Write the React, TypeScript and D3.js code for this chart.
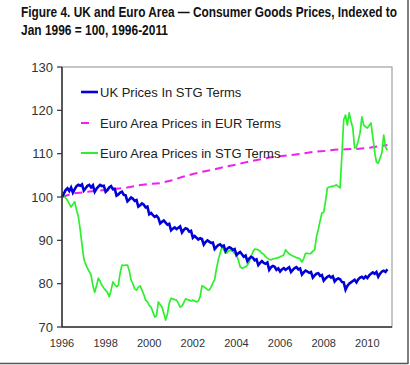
import React from 'react';
import * as d3 from 'd3';

// monthly series, Jan 1996 .. Dec 2010
const ukPricesStg = [
  100.0, 100.8, 101.6, 102.0, 101.4, 102.2, 101.0, 101.8, 102.5, 102.8, 102.6, 102.9,
  101.5, 102.0, 102.6, 102.8, 102.2, 102.7, 101.2, 101.9, 102.4, 102.8, 102.5, 102.6,
  101.2, 101.6, 102.2, 102.5, 101.8, 101.9, 100.3, 100.6, 101.0, 101.2, 100.5, 100.4,
  99.0, 99.4, 99.9, 99.6, 99.1, 99.3, 97.8, 98.1, 98.5, 98.2, 97.6, 97.8,
  96.0, 96.3, 95.8, 95.4, 95.7, 95.2, 93.9, 94.3, 94.6, 94.1, 93.6, 93.8,
  92.3, 92.7, 93.0, 92.6, 92.9, 93.2, 91.8, 92.4, 92.8, 92.6, 92.0, 92.2,
  90.6, 91.0, 90.6, 90.2, 90.5, 90.3, 89.0, 89.6, 90.0, 89.7, 89.4, 89.5,
  88.0, 88.5, 88.9, 89.1, 88.6, 88.8, 87.5, 88.1, 88.4, 88.2, 87.8, 88.0,
  86.6, 87.0, 87.3, 86.8, 86.2, 86.5, 85.2, 85.8, 86.2, 86.0, 85.4, 85.6,
  84.3, 84.8, 85.2, 84.8, 84.6, 84.9, 83.2, 83.8, 84.1, 83.9, 83.2, 83.5,
  82.8, 83.3, 83.6, 83.2, 83.5, 83.8, 82.7, 83.2, 83.6, 83.8, 83.3, 83.5,
  82.1, 82.6, 83.0, 82.8, 82.5, 82.7, 81.4, 81.9, 82.3, 82.4, 81.8, 82.0,
  80.7, 81.2, 81.6, 81.8, 81.4, 81.7, 80.5, 81.0, 81.2, 81.0, 80.4, 80.3,
  78.6, 79.5, 80.0, 80.3, 80.6, 80.9, 80.3, 81.0, 81.4, 81.6, 81.2, 81.7,
  81.3, 81.9, 82.3, 82.6, 82.3, 82.7, 81.6, 82.3, 82.8, 83.0, 82.7, 83.3,
];

const euroPricesStg = [
  100.0, 100.1, 99.8, 99.2, 98.4, 97.7, 98.3, 98.9, 97.0, 95.5, 92.5, 89.0,
  85.8, 84.5, 83.6, 82.8, 82.0, 79.5, 78.0, 79.5, 81.3, 80.5, 79.6, 79.0,
  78.5, 78.0, 77.0, 78.5, 80.4, 79.8, 79.3, 79.6, 82.5, 84.3, 84.2, 84.3,
  84.3, 83.0, 80.8, 80.0, 78.8, 78.5, 79.2, 79.5, 78.5, 77.5, 76.2, 75.8,
  75.0, 74.6, 73.5, 72.3, 72.6, 75.8, 75.2, 74.6, 73.2, 71.6, 73.0, 75.5,
  76.6, 76.5, 76.3, 76.2, 75.5, 74.6, 74.8, 75.6, 76.5, 76.3, 76.2, 76.0,
  76.2, 76.0, 75.8, 76.0, 77.0, 79.5, 79.3, 79.0, 78.6, 78.5, 79.2, 80.1,
  81.0, 83.5, 85.5, 87.0, 88.5, 87.8, 87.0, 87.2, 87.6, 87.8, 87.4, 87.0,
  86.6, 85.5, 83.9, 83.6, 83.7, 83.9, 84.3, 85.0, 86.2, 87.3, 88.0, 87.9,
  87.8, 87.5, 87.0, 86.8, 86.2, 85.9, 85.6, 85.5, 85.7, 85.8, 85.9, 86.0,
  86.2, 86.4, 86.6, 87.8, 87.3, 86.9, 86.6, 86.4, 86.2, 86.0, 85.9, 85.7,
  85.0, 85.8, 87.0, 87.0, 86.9, 87.0, 87.5, 87.8, 90.8, 92.5, 94.5, 96.3,
  96.5, 99.0, 102.1, 102.3, 102.4, 102.5, 102.6, 102.8, 102.4, 102.1, 109.7, 117.8,
  118.9, 116.6, 119.4, 117.5, 115.9, 111.3, 111.5, 113.0, 114.8, 118.5, 116.6, 116.2,
  115.9, 116.5, 117.1, 113.8, 110.5, 108.0, 107.8, 109.0, 110.2, 114.3, 111.5, 110.8,
];

// half-yearly readings of the smooth EUR series
const euroEurYears = [
  1996, 1996.5, 1997, 1997.5, 1998, 1998.5, 1999, 1999.5, 2000, 2000.5, 2001, 2001.5,
  2002, 2002.5, 2003, 2003.5, 2004, 2004.5, 2005, 2005.5, 2006, 2006.5, 2007, 2007.5,
  2008, 2008.5, 2009, 2009.5, 2010, 2010.5, 2010.92,
];
const euroPricesEur = [
  100.0, 100.8, 101.1, 101.4, 101.6, 101.9, 102.2, 102.7, 103.0, 103.2, 103.8, 104.6,
  105.3, 105.9, 106.4, 107.0, 107.5, 108.1, 108.6, 109.1, 109.4, 109.7, 110.0, 110.4,
  110.6, 110.9, 111.0, 111.1, 111.3, 111.7, 112.0,
];

const yTicks = [70, 80, 90, 100, 110, 120, 130];
const xTicks = [1996, 1998, 2000, 2002, 2004, 2006, 2008, 2010];

const seriesNames = [
  'UK Prices In STG Terms',
  'Euro Area Prices in EUR Terms',
  'Euro Area Prices in STG Terms',
];

const W = 410;
const H = 365;
const plot = { left: 62, right: 392, top: 67, bottom: 327 };

export default function App() {
  const x = d3.scaleLinear().domain([1996, 2011.13]).range([plot.left, plot.right]);
  const y = d3.scaleLinear().domain([70, 130]).range([plot.bottom, plot.top]);

  const monthly = (vals: number[]) => vals.map((v, i) => [1996 + i / 12, v] as [number, number]);
  const line = d3.line<[number, number]>().x(d => x(d[0])).y(d => y(d[1]));

  const bluePath = line(monthly(ukPricesStg)) || '';
  const greenPath = line(monthly(euroPricesStg)) || '';
  const magentaPath = line(euroEurYears.map((yr, i) => [yr, euroPricesEur[i]] as [number, number])) || '';

  const blue = '#0000d8';
  const green = '#2cf02c';
  const magenta = '#ee22ee';
  const legendColors = [blue, magenta, green];
  const legendY = [92, 123, 153];

  return (
    <svg width={W} height={H} viewBox={`0 0 ${W} ${H}`}
      style={{ position: 'absolute', left: 0, top: 0, background: '#fff' }}
      fontFamily="'Liberation Sans', Arial, sans-serif">
      {/* title */}
      <g fontFamily="'Liberation Sans Narrow', 'Arial Narrow', 'Liberation Sans', sans-serif"
        fontWeight="bold" fontSize={14} fill="#111">
        <text x={21} y={17} textLength={376} lengthAdjust="spacingAndGlyphs">
          Figure 4. UK and Euro Area — Consumer Goods Prices, Indexed to
        </text>
        <text x={21} y={35} textLength={147} lengthAdjust="spacingAndGlyphs">
          Jan 1996 = 100, 1996-2011
        </text>
      </g>

      {/* plot frame */}
      <rect x={plot.left} y={plot.top} width={plot.right - plot.left} height={plot.bottom - plot.top}
        fill="none" stroke="#a0a0a0" strokeWidth={1.2} />

      {/* series */}
      <path d={magentaPath} fill="none" stroke={magenta} strokeWidth={2} strokeDasharray="8,5" />
      <path d={greenPath} fill="none" stroke={green} strokeWidth={1.7} strokeLinejoin="round" />
      <path d={bluePath} fill="none" stroke={blue} strokeWidth={2.6} strokeLinejoin="miter" />

      {/* axes */}
      <line x1={plot.left} x2={plot.left} y1={plot.top} y2={plot.bottom} stroke="#333" strokeWidth={1.5} />
      <line x1={plot.left} x2={plot.right} y1={plot.bottom} y2={plot.bottom} stroke="#333" strokeWidth={1.5} />
      {yTicks.map(t => (
        <g key={t}>
          <line x1={plot.left - 5} x2={plot.left} y1={y(t)} y2={y(t)} stroke="#333" strokeWidth={1.2} />
          <text x={53} y={y(t) + 4.5} textAnchor="end" fontSize={13} fill="#333">{t}</text>
        </g>
      ))}
      {xTicks.map(t => (
        <text key={t} x={x(t)} y={347} textAnchor="middle" fontSize={11} fill="#333">{t}</text>
      ))}

      {/* legend */}
      {seriesNames.map((name, i) => (
        <g key={name}>
          {i === 1 ? (
            <line x1={81} x2={89} y1={legendY[i]} y2={legendY[i]} stroke={legendColors[i]} strokeWidth={2} />
          ) : (
            <line x1={81} x2={98} y1={legendY[i]} y2={legendY[i]} stroke={legendColors[i]} strokeWidth={i === 0 ? 2.6 : 2} />
          )}
          <text x={100} y={legendY[i] + 5} fontSize={13} fill="#222">{name}</text>
        </g>
      ))}

      {/* outer frame */}
      <line x1={408} x2={408} y1={0} y2={364} stroke="#555" strokeWidth={1.5} />
      <line x1={0} x2={408} y1={363.5} y2={363.5} stroke="#555" strokeWidth={1.5} />
    </svg>
  );
}
